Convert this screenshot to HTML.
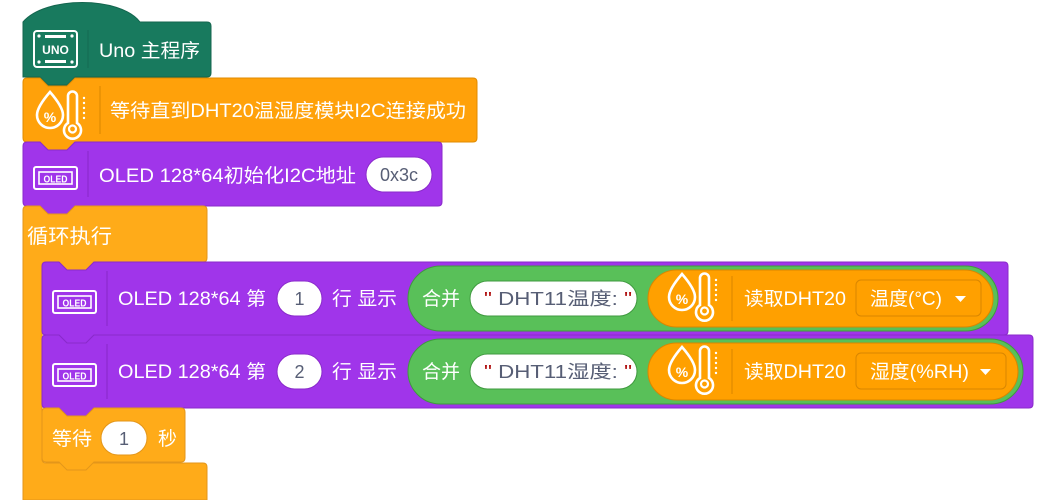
<!DOCTYPE html>
<html><head><meta charset="utf-8"><style>
html,body{margin:0;padding:0;background:#fff;}
svg{display:block;}
text{font-family:"Liberation Sans","Noto Sans CJK SC",sans-serif;}
</style></head><body>
<svg width="1057" height="500" viewBox="0 0 1057 500" xmlns="http://www.w3.org/2000/svg">
<defs>
<g id="dht">
  <path d="M13,0 Q0,15 0,23 A13,13 0 0 0 26,23 Q26,15 13,0Z" fill="none" stroke="#fff" stroke-width="2.6"/>
  <text x="13" y="30" font-size="14" fill="#fff" text-anchor="middle" font-weight="bold">%</text>
  <path d="M31,31 L31,4 A4.5,4.5 0 0 1 40,4 L40,31 A8.5,8.5 0 1 1 31,31Z" fill="none" stroke="#fff" stroke-width="2.6"/>
  <circle cx="35.5" cy="37" r="3.5" fill="none" stroke="#fff" stroke-width="2.2"/>
  <g fill="#fff"><circle cx="47" cy="6" r="1.2"/><circle cx="47" cy="11" r="1.2"/><circle cx="47" cy="16" r="1.2"/><circle cx="47" cy="21" r="1.2"/><circle cx="47" cy="26" r="1.2"/></g>
</g>
<g id="oled">
  <rect x="1" y="1" width="43" height="22" rx="2" fill="none" stroke="#fff" stroke-width="2"/>
  <rect x="6" y="6" width="33" height="12" fill="none" stroke="#fff" stroke-width="1.6"/>
  <text x="22.5" y="16.5" font-size="10" font-weight="bold" fill="#fff" text-anchor="middle" textLength="24" lengthAdjust="spacingAndGlyphs">OLED</text>
</g>
</defs>

<!-- Hat block -->
<path d="M23,77 L23,22 C45,-4 120,-4 140,22 L207,22 Q211,22 211,26 L211,73 Q211,77 207,77 L75,77 L67,85 L48,85 L40,77 Z" fill="#187a5e" stroke="#14664f" stroke-width="1"/>
<g transform="translate(33,30)">
  <rect x="1" y="1" width="43" height="36" rx="3" fill="none" stroke="#fff" stroke-width="2"/>
  <g fill="#fff"><circle cx="6" cy="6" r="1.6"/><circle cx="39" cy="6" r="1.6"/><circle cx="6" cy="32" r="1.6"/><circle cx="39" cy="32" r="1.6"/></g>
  <rect x="12" y="5" width="21" height="3" fill="#fff"/>
  <rect x="12" y="30" width="21" height="3" fill="#fff"/>
  <text x="22.5" y="24" font-size="12" font-weight="bold" fill="#fff" text-anchor="middle">UNO</text>
</g>
<line x1="88" y1="30" x2="88" y2="68" stroke="#146a52" stroke-width="1"/>
<text x="99" y="57" font-size="19" fill="#fff" textLength="101" lengthAdjust="spacingAndGlyphs">Uno 主程序</text>

<!-- Block 1 -->
<path d="M23,82 Q23,78 27,78 L40,78 L48,86 L67,86 L75,78 L473,78 Q477,78 477,82 L477,138 Q477,142 473,142 L75,142 L67,150 L48,150 L40,142 L27,142 Q23,142 23,138 Z" fill="#ffa10a" stroke="#e08b00" stroke-width="1"/>
<use href="#dht" transform="translate(37,92)"/>
<line x1="100" y1="86" x2="100" y2="134" stroke="#d98600" stroke-width="1"/>
<text x="110" y="117" font-size="19" fill="#fff" textLength="356" lengthAdjust="spacingAndGlyphs">等待直到DHT20温湿度模块I2C连接成功</text>

<!-- Block 2 -->
<path d="M23,146 Q23,142 27,142 L40,142 L48,150 L67,150 L75,142 L438,142 Q442,142 442,146 L442,202 Q442,206 438,206 L75,206 L67,214 L48,214 L40,206 L27,206 Q23,206 23,202 Z" fill="#a035ea" stroke="#8a2acb" stroke-width="1"/>
<use href="#oled" transform="translate(33,166)"/>
<line x1="88" y1="151" x2="88" y2="197" stroke="#8727c8" stroke-width="1"/>
<text x="99" y="182" font-size="19" fill="#fff" textLength="257" lengthAdjust="spacingAndGlyphs">OLED 128*64初始化I2C地址</text>
<rect x="366" y="157" width="66" height="35" rx="17.5" fill="#fff" stroke="#8a2acb" stroke-width="1"/>
<text x="399" y="181" font-size="18" fill="#575e75" text-anchor="middle">0x3c</text>

<!-- Loop -->
<path d="M23,210 Q23,206 27,206 L40,206 L48,214 L67,214 L75,206 L203,206 Q207,206 207,210 L207,258 Q207,262 203,262 L94,262 L86,270 L67,270 L59,262 L46,262 Q42,262 42,266 L42,459 Q42,463 46,463 L203,463 Q207,463 207,467 L207,500 L23,500 Z" fill="#ffab19" stroke="#e3961a" stroke-width="1"/>
<text x="27" y="243" font-size="20" fill="#fff" textLength="85" lengthAdjust="spacingAndGlyphs">循环执行</text>

<!-- Row 1 -->
<path d="M42,266 Q42,262 46,262 L59,262 L67,270 L86,270 L94,262 L1004,262 Q1008,262 1008,266 L1008,331 Q1008,335 1004,335 L94,335 L86,343 L67,343 L59,335 L46,335 Q42,335 42,331 Z" fill="#a035ea" stroke="#8a2acb" stroke-width="1"/>
<use href="#oled" transform="translate(52,290)"/>
<line x1="107" y1="271" x2="107" y2="326" stroke="#8727c8" stroke-width="1"/>
<text x="118" y="305" font-size="19" fill="#fff" textLength="148" lengthAdjust="spacingAndGlyphs">OLED 128*64 第</text>
<rect x="277" y="281" width="45" height="35" rx="17.5" fill="#fff" stroke="#8a2acb" stroke-width="1"/>
<text x="299.5" y="305" font-size="18" fill="#575e75" text-anchor="middle">1</text>
<text x="332" y="305" font-size="19" fill="#fff" textLength="65" lengthAdjust="spacingAndGlyphs">行 显示</text>
<rect x="408" y="266" width="590" height="65" rx="32.5" fill="#59c059" stroke="#3f9a3f" stroke-width="1"/>
<text x="422" y="305" font-size="19" fill="#fff" textLength="38" lengthAdjust="spacingAndGlyphs">合并</text>
<rect x="470" y="281" width="167" height="35" rx="17.5" fill="#fff" stroke="#3f9a3f" stroke-width="1"/>
<text x="484" y="305" font-size="18" fill="#575e75" textLength="148" lengthAdjust="spacingAndGlyphs"><tspan fill="#b01010">"</tspan> DHT11温度: <tspan fill="#b01010">"</tspan></text>
<rect x="648" y="270" width="345" height="57" rx="28.5" fill="#ffa000" stroke="#d98600" stroke-width="1"/>
<use href="#dht" transform="translate(669,274)"/>
<line x1="732" y1="276" x2="732" y2="321" stroke="#d98600" stroke-width="1"/>
<text x="744" y="305" font-size="19" fill="#fff" textLength="102" lengthAdjust="spacingAndGlyphs">读取DHT20</text>
<rect x="856" y="280" width="125" height="36" rx="5" fill="#ffa000" stroke="#d98600" stroke-width="1"/>
<text x="870" y="305" font-size="19" fill="#fff" textLength="72" lengthAdjust="spacingAndGlyphs">温度(°C)</text>
<path d="M955,296 L966,296 L960.5,302 Z" fill="#fff"/>

<!-- Row 2 -->
<path d="M42,339 Q42,335 46,335 L59,335 L67,343 L86,343 L94,335 L1029,335 Q1033,335 1033,339 L1033,404 Q1033,408 1029,408 L94,408 L86,416 L67,416 L59,408 L46,408 Q42,408 42,404 Z" fill="#a035ea" stroke="#8a2acb" stroke-width="1"/>
<use href="#oled" transform="translate(52,363)"/>
<line x1="107" y1="344" x2="107" y2="399" stroke="#8727c8" stroke-width="1"/>
<text x="118" y="378" font-size="19" fill="#fff" textLength="148" lengthAdjust="spacingAndGlyphs">OLED 128*64 第</text>
<rect x="277" y="354" width="45" height="35" rx="17.5" fill="#fff" stroke="#8a2acb" stroke-width="1"/>
<text x="299.5" y="378" font-size="18" fill="#575e75" text-anchor="middle">2</text>
<text x="332" y="378" font-size="19" fill="#fff" textLength="65" lengthAdjust="spacingAndGlyphs">行 显示</text>
<rect x="408" y="339" width="615" height="65" rx="32.5" fill="#59c059" stroke="#3f9a3f" stroke-width="1"/>
<text x="422" y="378" font-size="19" fill="#fff" textLength="38" lengthAdjust="spacingAndGlyphs">合并</text>
<rect x="470" y="354" width="167" height="35" rx="17.5" fill="#fff" stroke="#3f9a3f" stroke-width="1"/>
<text x="484" y="378" font-size="18" fill="#575e75" textLength="148" lengthAdjust="spacingAndGlyphs"><tspan fill="#b01010">"</tspan> DHT11湿度: <tspan fill="#b01010">"</tspan></text>
<rect x="648" y="343" width="370" height="57" rx="28.5" fill="#ffa000" stroke="#d98600" stroke-width="1"/>
<use href="#dht" transform="translate(669,347)"/>
<line x1="732" y1="349" x2="732" y2="394" stroke="#d98600" stroke-width="1"/>
<text x="744" y="378" font-size="19" fill="#fff" textLength="102" lengthAdjust="spacingAndGlyphs">读取DHT20</text>
<rect x="856" y="353" width="150" height="36" rx="5" fill="#ffa000" stroke="#d98600" stroke-width="1"/>
<text x="870" y="378" font-size="19" fill="#fff" textLength="99" lengthAdjust="spacingAndGlyphs">湿度(%RH)</text>
<path d="M980,369 L991,369 L985.5,375 Z" fill="#fff"/>

<!-- Wait -->
<path d="M42,412 Q42,408 46,408 L59,408 L67,416 L86,416 L94,408 L181,408 Q185,408 185,412 L185,458 Q185,462 181,462 L94,462 L86,470 L67,470 L59,462 L46,462 Q42,462 42,458 Z" fill="#ffab19" stroke="#e3961a" stroke-width="1"/>
<text x="52" y="445" font-size="19" fill="#fff" textLength="40" lengthAdjust="spacingAndGlyphs">等待</text>
<rect x="101" y="421" width="46" height="34" rx="17" fill="#fff" stroke="#e3961a" stroke-width="1"/>
<text x="124" y="445" font-size="18" fill="#575e75" text-anchor="middle">1</text>
<text x="158" y="445" font-size="19" fill="#fff">秒</text>
</svg>
</body></html>
